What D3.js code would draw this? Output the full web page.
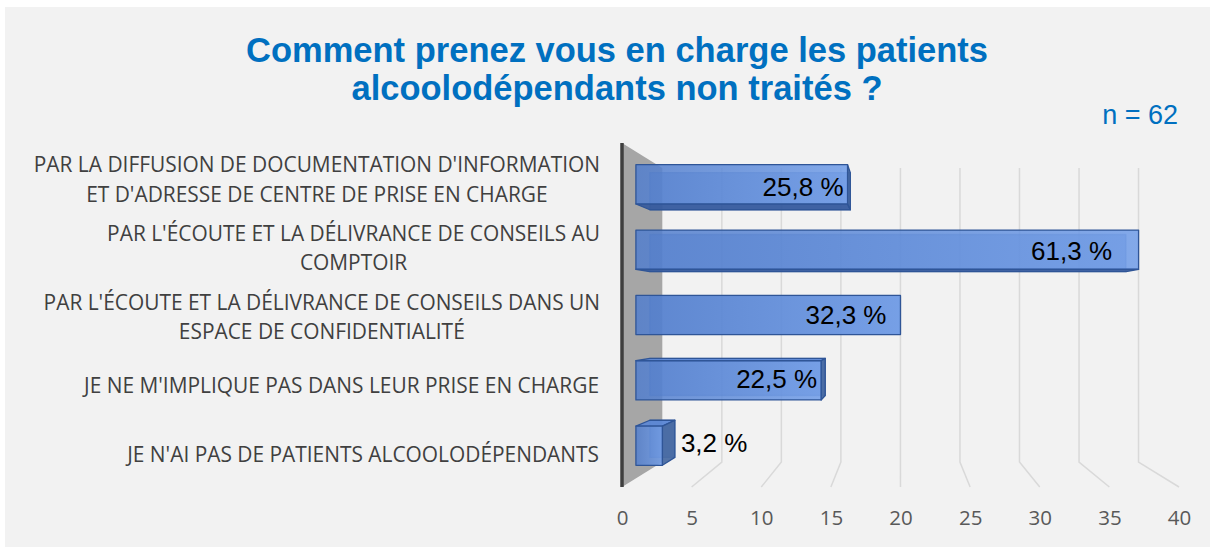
<!DOCTYPE html>
<html>
<head>
<meta charset="utf-8">
<script src="https://cdn.jsdelivr.net/npm/d3@7"></script>
<style>
  body { margin: 0; background: #fff; }
  text { font-family: "Liberation Sans", Arial, sans-serif; }
  .cat, .tick text { font-family: "Open Sans", "Noto Sans", sans-serif; }
</style>
</head>
<body>
<svg id="chart" width="1216" height="547"></svg>
<script>
// data
const titleLines = ["Comment prenez vous en charge les patients", "alcoolodépendants non traités ?"];
const sampleLabel = "n = 62";
const categories = [
  ["PAR LA DIFFUSION DE DOCUMENTATION D'INFORMATION", "ET D'ADRESSE DE CENTRE DE PRISE EN CHARGE"],
  ["PAR L'ÉCOUTE ET LA DÉLIVRANCE DE CONSEILS AU", "COMPTOIR"],
  ["PAR L'ÉCOUTE ET LA DÉLIVRANCE DE CONSEILS DANS UN", "ESPACE DE CONFIDENTIALITÉ"],
  ["JE NE M'IMPLIQUE PAS DANS LEUR PRISE EN CHARGE"],
  ["JE N'AI PAS DE PATIENTS ALCOOLODÉPENDANTS"]
];
const counts = [16, 38, 20, 14, 2];
const percentLabels = ["25,8 %", "61,3 %", "32,3 %", "22,5 %", "3,2 %"];
const xTicks = [0, 5, 10, 15, 20, 25, 30, 35, 40];

// layout
const svg = d3.select('#chart');
const plotTop = 143, plotBottom = 487;
const vpX = 900, vpY = 315;       // vanishing point of the 3D view
const shrink = 0.145;             // how much the back wall shrinks
const barFront = 0.345, barBack = 0.69;

const x = d3.scaleLinear().domain([0, 40]).range([622, 1179]);
const y = d3.scaleBand().domain(d3.range(categories.length)).range([plotTop, plotBottom])
  .paddingInner(0.4).paddingOuter(0.2);

const P = (v, yy, d) => {
  const s = 1 - shrink * d;
  return [vpX + (x(v) - vpX) * s, vpY + (yy - vpY) * s];
};
const poly = pts => 'M' + pts.map(p => p.join(',')).join('L') + 'Z';
const line = pts => 'M' + pts.map(p => p.join(',')).join('L');

// background panel
svg.append('rect').attr('x', 5).attr('y', 7).attr('width', 1205).attr('height', 540).attr('fill', '#f2f2f2');

// title
svg.append('g').selectAll('text').data(titleLines).enter().append('text')
  .attr('x', 617).attr('y', (d, i) => 61.5 + i * 38)
  .attr('text-anchor', 'middle').attr('font-size', 34.5).attr('font-weight', 'bold')
  .attr('fill', '#0070c0').text(d => d);

svg.append('text').attr('x', 1178).attr('y', 124).attr('text-anchor', 'end')
  .attr('font-size', 27).attr('fill', '#0070c0').text(sampleLabel);

// gridlines on back wall and floor
svg.append('g').selectAll('path').data(xTicks.filter(t => t > 0)).enter().append('path')
  .attr('d', t => line([P(t, plotTop, 1), P(t, plotBottom, 1), P(t, plotBottom, 0)]))
  .attr('fill', 'none').attr('stroke', '#d9d9d9').attr('stroke-width', 1.5);

// side wall
svg.append('path')
  .attr('d', poly([P(0, plotTop, 0), P(0, plotTop, 1), P(0, plotBottom, 1), P(0, plotBottom, 0)]))
  .attr('fill', '#a6a6a6');
svg.append('line').attr('x1', x(0)).attr('x2', x(0)).attr('y1', plotTop).attr('y2', plotBottom)
  .attr('stroke', '#3f3f3f').attr('stroke-width', 3.5);

// x axis
const xAxis = d3.axisBottom(x).tickValues(xTicks).tickSize(0).tickPadding(0);
const gx = svg.append('g').attr('transform', 'translate(0,510)').call(xAxis);
gx.select('.domain').remove();
gx.selectAll('text').attr('font-size', 20.5).attr('fill', '#595959').attr('dy', '0.71em')
  .style('font-family', '"Open Sans", sans-serif');

// category labels
const catG = svg.append('g');
categories.forEach((lines, i) => {
  const cy = y(i) + y.bandwidth() / 2 + 2;
  const lh = 29.5;
  const t = catG.append('text').attr('class', 'cat').attr('font-size', 20.9)
    .attr('fill', '#404040').attr('text-anchor', 'middle');
  lines.forEach((l, j) => {
    t.append('tspan').attr('x', 0).attr('y', cy + (j - (lines.length - 1) / 2) * lh)
      .attr('dy', '0.36em').text(l);
  });
  const w = t.node().getBBox().width;
  t.selectAll('tspan').attr('x', 600 - w / 2);
});

// gradient for the bar front faces
const defs = svg.append('defs');
const grad = defs.append('linearGradient').attr('id', 'barGrad').attr('x1', 0).attr('x2', 1).attr('y1', 0).attr('y2', 0);
grad.append('stop').attr('offset', 0).attr('stop-color', '#527ecd');
grad.append('stop').attr('offset', 1).attr('stop-color', '#6f9ce8');

// 3D bars
const barsG = svg.append('g');
counts.forEach((v, i) => {
  const y0 = y(i), y1 = y(i) + y.bandwidth();
  const g = barsG.append('g').attr('stroke', '#2f5597').attr('stroke-width', 1.3)
    .attr('stroke-linejoin', 'round');
  // back face shows faintly through the bar
  g.append('path').attr('d', poly([P(0, y0, barBack), P(v, y0, barBack), P(v, y1, barBack), P(0, y1, barBack)]))
    .attr('fill', '#4a74c2').attr('fill-opacity', 0.5).attr('stroke-opacity', 0.35);
  if (y1 < vpY) {
    g.append('path').attr('d', poly([P(0, y1, barFront), P(v, y1, barFront), P(v, y1, barBack), P(0, y1, barBack)]))
      .attr('fill', '#34599c').attr('fill-opacity', 0.9);
  }
  if (y0 > vpY) {
    g.append('path').attr('d', poly([P(0, y0, barFront), P(v, y0, barFront), P(v, y0, barBack), P(0, y0, barBack)]))
      .attr('fill', '#5b87d6').attr('fill-opacity', 0.9);
  }
  if (x(v) < vpX) {
    g.append('path').attr('d', poly([P(v, y0, barFront), P(v, y0, barBack), P(v, y1, barBack), P(v, y1, barFront)]))
      .attr('fill', '#41659f').attr('fill-opacity', 0.9);
  }
  g.append('path').attr('d', poly([P(0, y0, barFront), P(v, y0, barFront), P(v, y1, barFront), P(0, y1, barFront)]))
    .attr('fill', 'url(#barGrad)').attr('fill-opacity', 0.85);

  // value label
  const pts = [P(0, y0, barFront), P(v, y1, barFront), P(v, y0, barBack), P(v, y1, barBack)];
  const right = d3.max(pts, p => p[0]);
  const frontRight = P(v, y0, barFront)[0], backRight = P(v, y0, barBack)[0];
  const cy = (d3.min(pts, p => p[1]) + d3.max(pts, p => p[1])) / 2;
  const lbl = barsG.append('text').attr('font-size', 26).attr('fill', '#000')
    .attr('y', cy).attr('dy', '0.35em').text(percentLabels[i]);
  const tw = lbl.node().getComputedTextLength();
  const left = P(0, y0, barFront)[0];
  if (tw + 12 > frontRight - left) {
    lbl.attr('x', right + 6).attr('text-anchor', 'start');
  } else {
    const pad = x(v) > vpX ? 14 : 4;
    lbl.attr('x', Math.min(frontRight, backRight) - pad).attr('text-anchor', 'end');
  }
});
</script>
</body>
</html>
